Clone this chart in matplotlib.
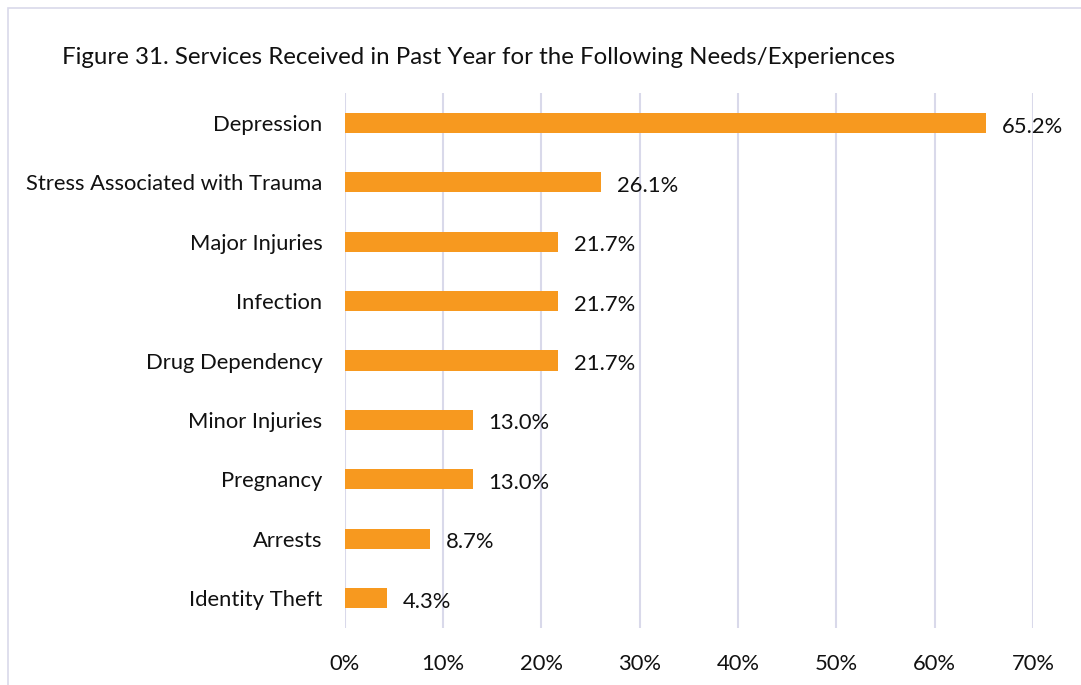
import matplotlib.pyplot as plt
from matplotlib.patches import Rectangle

categories = ['Depression', 'Stress Associated with Trauma', 'Major Injuries', 'Infection',
              'Drug Dependency', 'Minor Injuries', 'Pregnancy', 'Arrests', 'Identity Theft']
values = [65.2, 26.1, 21.7, 21.7, 21.7, 13.0, 13.0, 8.7, 4.3]
ticks = [0, 10, 20, 30, 40, 50, 60, 70]

plt.rcParams['font.family'] = ['Lato', 'DejaVu Sans']

fig = plt.figure(figsize=(10.81, 6.85), dpi=100)
ax = fig.add_axes([0.319, 0.0836, 0.6366, 0.7802])

# outer chart border (partly outside the picture, like the screenshot)
fig.patches.append(Rectangle((8 / 1081, -0.05), 1.2, 1 - 8 / 685 + 0.05, transform=fig.transFigure,
                             fill=False, edgecolor='#D9D9EA', linewidth=1.2))

y = list(range(len(categories)))
ax.barh(y, values, height=0.34, color='#F7991F', zorder=3)
for yi, v in zip(y, values):
    ax.text(v + 1.6, yi + 0.06, f'{v:.1f}%', va='center', ha='left', fontsize=15.8, color='#111111')

ax.set_xlim(0, 70)
ax.set_ylim(len(categories) - 0.5, -0.5)
ax.set_yticks(y)
ax.set_yticklabels(categories, fontsize=15.8, color='#111111')
ax.set_xticks(ticks)
ax.set_xticklabels([f'{t}%' for t in ticks], fontsize=15.8, color='#111111')
ax.tick_params(length=0)
ax.tick_params(axis='y', pad=16)
ax.tick_params(axis='x', pad=19)
ax.grid(axis='x', color='#D9D9EA', linewidth=1.5, zorder=0)
for s in ax.spines.values():
    s.set_visible(False)

fig.text(62 / 1081, 1 - 58 / 685, 'Figure 31. Services Received in Past Year for the Following Needs/Experiences',
         fontsize=17.3, va='center', ha='left', color='#111111')

fig.savefig('out.png', dpi=100)
